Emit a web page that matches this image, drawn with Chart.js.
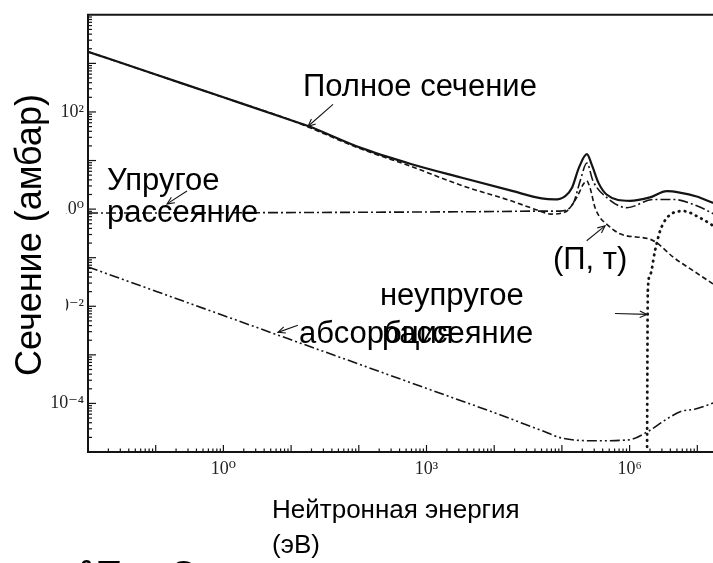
<!DOCTYPE html>
<html lang="ru">
<head>
<meta charset="utf-8">
<title>Сечение</title>
<script src="https://cdn.jsdelivr.net/npm/chart.js@4.4.1/dist/chart.umd.min.js"></script>
<style>
  html, body { margin: 0; padding: 0; width: 713px; height: 563px; overflow: hidden; background: #fff; }
  #wrap { position: absolute; left: 0; top: 0; width: 775px; height: 563px; }
</style>
</head>
<body>
<div id="wrap"><canvas id="xsChart" width="775" height="563"></canvas></div>
<script>
// энергия в эВ, сечение в барнах
const totalEnergy = [0.01, 0.1, 1, 10, 17.8, 107, 589, 3240, 17800, 50100, 77600, 112000, 141000, 178000, 234000, 275000, 347000, 457000, 1.0e6, 2.0e6, 3.55e6, 5.5e6, 9.8e6, 1.7e7, 3.16e7];
const totalSigma  = [1738, 589, 200, 67.6, 51.3, 18.2, 8.51, 4.47, 2.40, 1.66, 1.58, 1.86, 2.75, 7.08, 13.5, 8.32, 3.47, 2.0, 1.48, 1.74, 2.34, 2.19, 1.82, 1.35, 1.0];

const elasticEnergy = [0.01, 1, 100, 10000, 47900, 93300, 148000, 186000, 234000, 288000, 457000, 912000, 2.24e6, 4.47e6, 9.8e6, 1.7e7, 3.16e7];
const elasticSigma  = [0.83, 0.84, 0.86, 0.89, 0.91, 0.91, 1.35, 3.8, 8.9, 3.8, 1.74, 1.07, 1.58, 1.58, 1.17, 0.81, 0.5];

const ntEnergy = [0.01, 0.1, 1, 10, 107, 589, 3240, 17800, 47900, 67600, 112000, 166000, 207000, 232000, 260000, 309000, 363000, 457000, 724000, 2.0e6, 2.51e6, 4.43e6, 8.7e6, 1.7e7, 3.16e7];
const ntSigma  = [1738, 589, 200, 67.6, 17.4, 7.59, 3.09, 1.48, 0.91, 0.79, 0.87, 1.74, 3.24, 3.80, 2.75, 1.07, 0.68, 0.49, 0.31, 0.24, 0.204, 0.102, 0.054, 0.029, 0.0166];

const inelEnergy = [1.80e6, 1.86e6, 2.0e6, 2.37e6, 2.82e6, 3.55e6, 6.17e6, 1.1e7, 1.7e7, 3.16e7];
const inelSigma  = [1e-6, 0.021, 0.043, 0.138, 0.355, 0.66, 0.91, 0.66, 0.457, 0.25];

const absEnergy = [0.01, 0.1, 1, 10, 100, 1000, 10000, 55000, 97700, 302000, 977000, 1.91e6, 3.55e6, 5.89e6, 9.12e6, 1.82e7, 3.16e7];
const absSigma  = [0.0646, 0.0204, 0.00646, 0.00204, 6.46e-4, 2.04e-4, 6.46e-5, 2.63e-5, 1.95e-5, 1.70e-5, 1.78e-5, 2.69e-5, 4.79e-5, 6.92e-5, 7.59e-5, 1.05e-4, 1.41e-4];

const xTickValues = [1, 1e3, 1e6];
const xTickLabels = ['10⁰', '10³', '10⁶'];
const yTickValues = [1e-4, 1e-2, 1, 1e2];
const yTickLabels = ['10⁻⁴', '10⁻²', '10⁰', '10²'];

// стрелки-указатели: откуда и куда (в координатах графика)
const arrowNotes = [
    { from: [41.6, 143], to: [17.8, 50.7] },
    { from: [0.29, 2.36], to: [0.147, 1.28] },
    { from: [12.6, 0.00407], to: [6.4, 0.0029] },
    { from: [2.32e5, 0.223], to: [4.34e5, 0.453] },
    { from: [6.08e5, 0.0071], to: [1.81e6, 0.0068] }
];

const INK = '#141414';
const SANS = "'Liberation Sans', Arial, sans-serif";
const SERIF = "'Liberation Serif', 'DejaVu Serif', serif";

function pts(xs, ys) {
    return xs.map((v, i) => ({ x: v, y: ys[i] }));
}

function line(ctx, x1, y1, x2, y2) {
    ctx.beginPath();
    ctx.moveTo(x1, y1);
    ctx.lineTo(x2, y2);
    ctx.stroke();
}

function arrow(ctx, x1, y1, x2, y2) {
    const ang = Math.atan2(y2 - y1, x2 - x1);
    const h = 8, w = 0.42;
    line(ctx, x1, y1, x2, y2);
    ctx.beginPath();
    ctx.moveTo(x2 - h * Math.cos(ang - w), y2 - h * Math.sin(ang - w));
    ctx.lineTo(x2, y2);
    ctx.lineTo(x2 - h * Math.cos(ang + w), y2 - h * Math.sin(ang + w));
    ctx.stroke();
}

const decorPlugin = {
    id: 'decor',
    afterDraw(chart) {
        const ctx = chart.ctx;
        const a = chart.chartArea;
        const x = chart.scales.x, y = chart.scales.y;
        ctx.save();
        ctx.strokeStyle = INK;

        // внутренние засечки
        ctx.lineWidth = 1.2;
        for (let e = -2; e < 8; e++) {
            for (let m = 1; m <= 9; m++) {
                const px = x.getPixelForValue(m * Math.pow(10, e));
                line(ctx, px, a.bottom, px, a.bottom - (m === 1 ? 7 : 3.5));
            }
        }
        for (let e = -5; e < 4; e++) {
            for (let m = 1; m <= 9; m++) {
                const py = y.getPixelForValue(m * Math.pow(10, e));
                if (py < a.top) continue;
                line(ctx, a.left, py, a.left + (m === 1 ? 8 : 4), py);
            }
        }
        // верхняя рамка
        ctx.lineWidth = 2;
        line(ctx, a.left - 1, a.top, a.right, a.top);

        // стрелки
        ctx.lineWidth = 1.1;
        arrowNotes.forEach(n => {
            arrow(ctx,
                x.getPixelForValue(n.from[0]), y.getPixelForValue(n.from[1]),
                x.getPixelForValue(n.to[0]), y.getPixelForValue(n.to[1]));
        });

        // подписи кривых
        ctx.fillStyle = '#000';
        ctx.textAlign = 'left';
        ctx.textBaseline = 'alphabetic';
        ctx.font = '31px ' + SANS;
        ctx.fillText('Полное сечение', 303, 96);
        ctx.fillText('Упругое', 107, 190);
        ctx.fillText('рассеяние', 107, 222);
        ctx.fillText('(П, т)', 553, 269);
        ctx.fillText('неупругое', 380, 305);
        ctx.fillText('абсорбция', 299, 343);
        ctx.fillText('рассеяние', 382, 343);

        // подпись оси X
        ctx.font = '26px ' + SANS;
        ctx.fillText('Нейтронная энергия', 272, 518);
        ctx.fillText('(эВ)', 272, 553);

        // подпись оси Y на белой подложке
        ctx.fillStyle = '#fff';
        ctx.fillRect(0, 125, 66, 262);
        ctx.fillStyle = '#000';
        ctx.translate(31, 235);
        ctx.rotate(-Math.PI / 2);
        ctx.textAlign = 'center';
        ctx.textBaseline = 'middle';
        ctx.font = '36px ' + SANS;
        ctx.fillText('Сечение (амбар)', 0, 0);
        ctx.setTransform(1, 0, 0, 1, 0, 0);

        // обрезанный заголовок внизу
        ctx.textAlign = 'left';
        ctx.textBaseline = 'alphabetic';
        ctx.font = 'bold 22px ' + SANS;
        ctx.fillText('6', 80, 575);
        ctx.font = 'bold 36px ' + SANS;
        ctx.fillText('Ти', 98, 587);
        ctx.fillText('Сечения', 170, 587);
        ctx.restore();
    }
};

const lineBase = {
    showLine: true,
    pointRadius: 0,
    borderColor: INK,
    fill: false,
    cubicInterpolationMode: 'monotone'
};

new Chart(document.getElementById('xsChart'), {
    type: 'scatter',
    data: {
        datasets: [
            Object.assign({}, lineBase, { label: 'абсорбция', data: pts(absEnergy, absSigma), borderWidth: 1.6, borderDash: [10, 3, 2, 3, 2, 3] }),
            Object.assign({}, lineBase, { label: 'неупругое', data: pts(inelEnergy, inelSigma), borderWidth: 2.8, borderDash: [0.5, 5.5], borderCapStyle: 'round' }),
            Object.assign({}, lineBase, { label: '(n, t)', data: pts(ntEnergy, ntSigma), borderWidth: 1.6, borderDash: [5, 3] }),
            Object.assign({}, lineBase, { label: 'упругое', data: pts(elasticEnergy, elasticSigma), borderWidth: 1.6, borderDash: [10, 3, 2, 3] }),
            Object.assign({}, lineBase, { label: 'полное', data: pts(totalEnergy, totalSigma), borderWidth: 2.2 })
        ]
    },
    options: {
        responsive: false,
        animation: false,
        devicePixelRatio: 1,
        layout: { padding: { top: 13, left: 0, right: 10, bottom: 0 } },
        plugins: {
            legend: { display: false },
            tooltip: { enabled: false }
        },
        scales: {
            x: {
                type: 'logarithmic',
                min: 0.01,
                max: 1e8,
                grid: { display: false, drawTicks: false },
                border: { display: true, color: INK, width: 2 },
                afterBuildTicks: s => { s.ticks = xTickValues.map(v => ({ value: v })); },
                afterFit: s => { s.height = 111; },
                ticks: {
                    autoSkip: false,
                    maxRotation: 0,
                    padding: 6,
                    color: '#222',
                    font: { family: SERIF, size: 18 },
                    callback: (v, i) => xTickLabels[i]
                }
            },
            y: {
                type: 'logarithmic',
                min: 1e-5,
                max: 1e4,
                grid: { display: false, drawTicks: false },
                border: { display: true, color: INK, width: 2 },
                afterBuildTicks: s => { s.ticks = yTickValues.map(v => ({ value: v })); },
                afterFit: s => { s.width = 88; },
                ticks: {
                    autoSkip: false,
                    padding: 4,
                    color: '#222',
                    font: { family: SERIF, size: 18 },
                    callback: (v, i) => yTickLabels[i]
                }
            }
        }
    },
    plugins: [decorPlugin]
});
</script>
</body>
</html>
